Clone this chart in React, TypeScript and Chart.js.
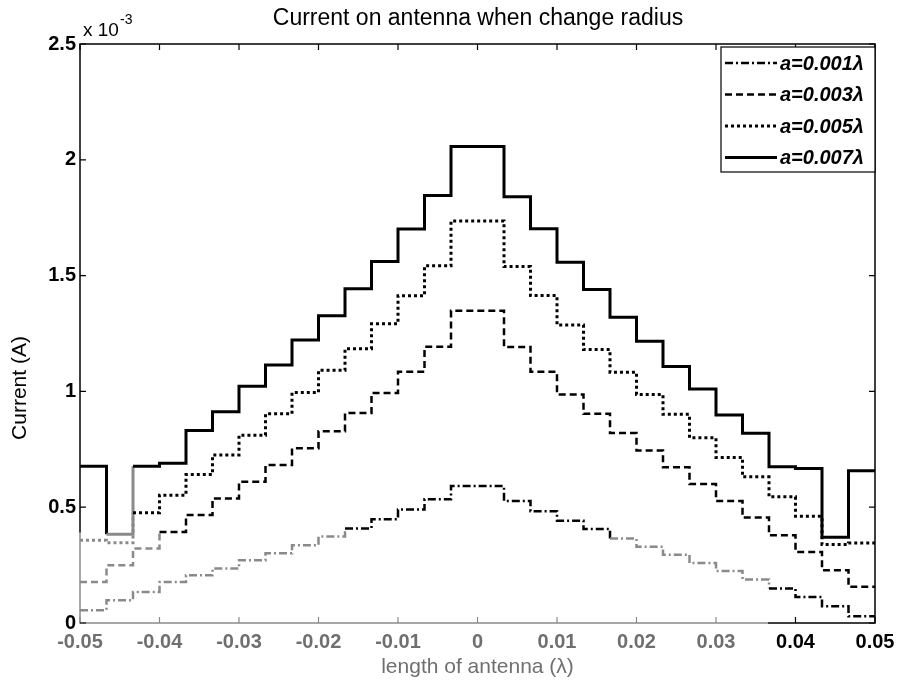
import React, { useEffect, useRef } from 'react';
import { Chart, registerables } from 'chart.js';

Chart.register(...registerables);

// ---- data (current values in units of 1e-3 A) ----
const xMin = -0.05;
const xMax = 0.05;
const segmentCount = 30;
const xTickValues = [-0.05, -0.04, -0.03, -0.02, -0.01, 0, 0.01, 0.02, 0.03, 0.04, 0.05];
const yTickValues = [0, 0.5, 1, 1.5, 2, 2.5];
const seriesLabels = ['a=0.001\u03bb', 'a=0.003\u03bb', 'a=0.005\u03bb', 'a=0.007\u03bb'];

const currentA001 = [0.055, 0.098, 0.134, 0.177, 0.206, 0.235, 0.271, 0.301, 0.336, 0.373, 0.408, 0.448, 0.490, 0.534, 0.591,
  0.591, 0.527, 0.483, 0.442, 0.406, 0.365, 0.329, 0.295, 0.259, 0.225, 0.188, 0.149, 0.112, 0.072, 0.029];
const currentA003 = [0.177, 0.249, 0.322, 0.393, 0.466, 0.538, 0.610, 0.682, 0.754, 0.828, 0.907, 0.993, 1.085, 1.193, 1.348,
  1.348, 1.192, 1.085, 0.987, 0.903, 0.820, 0.745, 0.673, 0.600, 0.527, 0.456, 0.379, 0.307, 0.228, 0.156];
const currentA005 = [0.357, 0.346, 0.476, 0.552, 0.641, 0.725, 0.811, 0.903, 0.995, 1.091, 1.184, 1.292, 1.413, 1.542, 1.736,
  1.736, 1.539, 1.414, 1.287, 1.181, 1.083, 0.987, 0.901, 0.800, 0.715, 0.631, 0.545, 0.461, 0.339, 0.345];
const currentA007 = [0.677, 0.383, 0.677, 0.690, 0.831, 0.912, 1.022, 1.114, 1.222, 1.327, 1.443, 1.561, 1.701, 1.846, 2.057,
  2.057, 1.840, 1.702, 1.558, 1.440, 1.320, 1.217, 1.107, 1.010, 0.898, 0.819, 0.675, 0.667, 0.370, 0.657];

const seriesValues = [currentA001, currentA003, currentA005, currentA007];
const seriesDash: number[][] = [[8, 3, 2, 3], [7, 4], [3, 3], []];
const seriesWidth = [2.5, 2.5, 3, 3];

// faded (scanned) lower-left area of the original figure
const fadeMaxY = 0.39;
const fadeMaxX = 0.0365;
const INK = '#000';
const FADED = '#8a8a8a';

const FONT = '"Liberation Sans", Arial, Helvetica, sans-serif';

const segmentEdges = Array.from({ length: segmentCount + 1 }, (_, k) => xMin + (k * (xMax - xMin)) / segmentCount);

function stepPoints(values: number[]) {
  return segmentEdges.map((x, k) => ({ x, y: values[Math.min(k, values.length - 1)] }));
}

function fmtX(v: number) {
  if (Math.abs(v) < 1e-9) return '0';
  return v.toFixed(2);
}

const decorPlugin = {
  id: 'decor',
  afterDraw(chart: any) {
    const { ctx, chartArea: ca, scales } = chart;
    ctx.save();
    ctx.setLineDash([]);
    ctx.lineWidth = 1.5;
    const fadeXpx = scales.x.getPixelForValue(fadeMaxX);
    const fadeYpx = scales.y.getPixelForValue(fadeMaxY);
    // axes box
    ctx.strokeStyle = INK;
    ctx.beginPath();
    ctx.moveTo(ca.left, fadeYpx);
    ctx.lineTo(ca.left, ca.top);
    ctx.lineTo(ca.right, ca.top);
    ctx.lineTo(ca.right, ca.bottom);
    ctx.lineTo(fadeXpx, ca.bottom);
    ctx.stroke();
    ctx.strokeStyle = FADED;
    ctx.beginPath();
    ctx.moveTo(fadeXpx, ca.bottom);
    ctx.lineTo(ca.left, ca.bottom);
    ctx.lineTo(ca.left, fadeYpx);
    ctx.stroke();
    // inward ticks
    ctx.lineWidth = 1.2;
    const tl = 6;
    xTickValues.forEach((v) => {
      const px = scales.x.getPixelForValue(v);
      ctx.strokeStyle = v < fadeMaxX ? FADED : INK;
      ctx.beginPath();
      ctx.moveTo(px, ca.bottom);
      ctx.lineTo(px, ca.bottom - tl);
      ctx.stroke();
      ctx.strokeStyle = INK;
      ctx.beginPath();
      ctx.moveTo(px, ca.top);
      ctx.lineTo(px, ca.top + tl);
      ctx.stroke();
    });
    ctx.strokeStyle = INK;
    yTickValues.forEach((v) => {
      const py = scales.y.getPixelForValue(v);
      ctx.beginPath();
      ctx.moveTo(ca.left, py);
      ctx.lineTo(ca.left + tl, py);
      ctx.moveTo(ca.right, py);
      ctx.lineTo(ca.right - tl, py);
      ctx.stroke();
    });

    // title
    ctx.fillStyle = INK;
    ctx.textAlign = 'center';
    ctx.textBaseline = 'middle';
    ctx.font = `23px ${FONT}`;
    ctx.fillText('Current on antenna when change radius', 478, 19);

    // exponent
    ctx.textAlign = 'left';
    ctx.font = `19px ${FONT}`;
    ctx.fillText('x 10', 83, 31);
    ctx.font = `14px ${FONT}`;
    ctx.fillText('-3', 120, 20);

    // axis titles
    ctx.textAlign = 'center';
    ctx.font = `21px ${FONT}`;
    ctx.fillStyle = '#6f6f6f';
    ctx.fillText('length of antenna (\u03bb)', (ca.left + ca.right) / 2, 667);
    ctx.fillStyle = INK;
    ctx.save();
    ctx.translate(20, 388);
    ctx.rotate(-Math.PI / 2);
    ctx.fillText('Current (A)', 0, 0);
    ctx.restore();

    // legend
    const lx = 721;
    const ly = 47;
    const lw = ca.right - lx;
    const lh = 125;
    ctx.fillStyle = '#fff';
    ctx.fillRect(lx, ly, lw, lh);
    ctx.lineWidth = 1.2;
    ctx.strokeStyle = INK;
    ctx.strokeRect(lx, ly, lw, lh);
    chart.data.datasets.forEach((ds: any, i: number) => {
      const ry = ly + 16 + i * 31.5;
      ctx.beginPath();
      ctx.setLineDash(ds.borderDash || []);
      ctx.lineWidth = ds.borderWidth;
      ctx.strokeStyle = INK;
      ctx.moveTo(lx + 4, ry);
      ctx.lineTo(lx + 56, ry);
      ctx.stroke();
      ctx.setLineDash([]);
      ctx.fillStyle = INK;
      ctx.textAlign = 'left';
      ctx.font = `italic bold 20px ${FONT}`;
      ctx.fillText(ds.label, lx + 59, ry + 1);
    });
    ctx.restore();
  },
};

export default function App() {
  const canvasRef = useRef<HTMLCanvasElement | null>(null);

  useEffect(() => {
    const canvas = canvasRef.current;
    if (!canvas) return;
    const chart = new Chart(canvas, {
      type: 'line',
      data: {
        datasets: seriesValues.map((vals, i) => ({
          label: seriesLabels[i],
          data: stepPoints(vals),
          stepped: 'before' as const,
          borderColor: INK,
          backgroundColor: INK,
          borderWidth: seriesWidth[i],
          borderDash: seriesDash[i],
          pointRadius: 0,
          fill: false,
          segment: {
            borderColor: (c: any) =>
              c.p0.parsed.y < fadeMaxY && c.p0.parsed.x < fadeMaxX - 1e-6 ? FADED : INK,
          },
        })),
      },
      options: {
        responsive: false,
        animation: false,
        devicePixelRatio: 1,
        layout: { padding: { left: 0, right: 22, top: 44, bottom: 0 } },
        plugins: {
          legend: { display: false },
          title: { display: false },
          tooltip: { enabled: false },
        },
        scales: {
          x: {
            type: 'linear',
            min: xMin,
            max: xMax,
            afterBuildTicks: (s: any) => {
              s.ticks = xTickValues.map((v) => ({ value: v }));
            },
            afterFit: (s: any) => {
              s.height = 61;
              s.paddingLeft = 0;
              s.paddingRight = 0;
            },
            grid: { display: false, drawTicks: false },
            border: { display: false },
            ticks: {
              autoSkip: false,
              maxRotation: 0,
              padding: 7,
              color: (c: any) => (c.tick && c.tick.value < fadeMaxX ? '#6f6f6f' : INK),
              font: { family: FONT, size: 20, weight: 'bold' },
              callback: (v: any) => fmtX(Number(v)),
            },
          },
          y: {
            type: 'linear',
            min: 0,
            max: 2.5,
            afterBuildTicks: (s: any) => {
              s.ticks = yTickValues.map((v) => ({ value: v }));
            },
            afterFit: (s: any) => {
              s.width = 80;
            },
            grid: { display: false, drawTicks: false },
            border: { display: false },
            ticks: {
              autoSkip: false,
              padding: 4,
              color: INK,
              font: { family: FONT, size: 20, weight: 'bold' },
              callback: (v: any) => String(Number(v)),
            },
          },
        },
      },
      plugins: [decorPlugin],
    });
    return () => chart.destroy();
  }, []);

  return (
    <div style={{ position: 'absolute', left: 0, top: 0, width: 897, height: 684, background: '#fff' }}>
      <canvas ref={canvasRef} width={897} height={684} style={{ width: 897, height: 684 }} />
    </div>
  );
}
